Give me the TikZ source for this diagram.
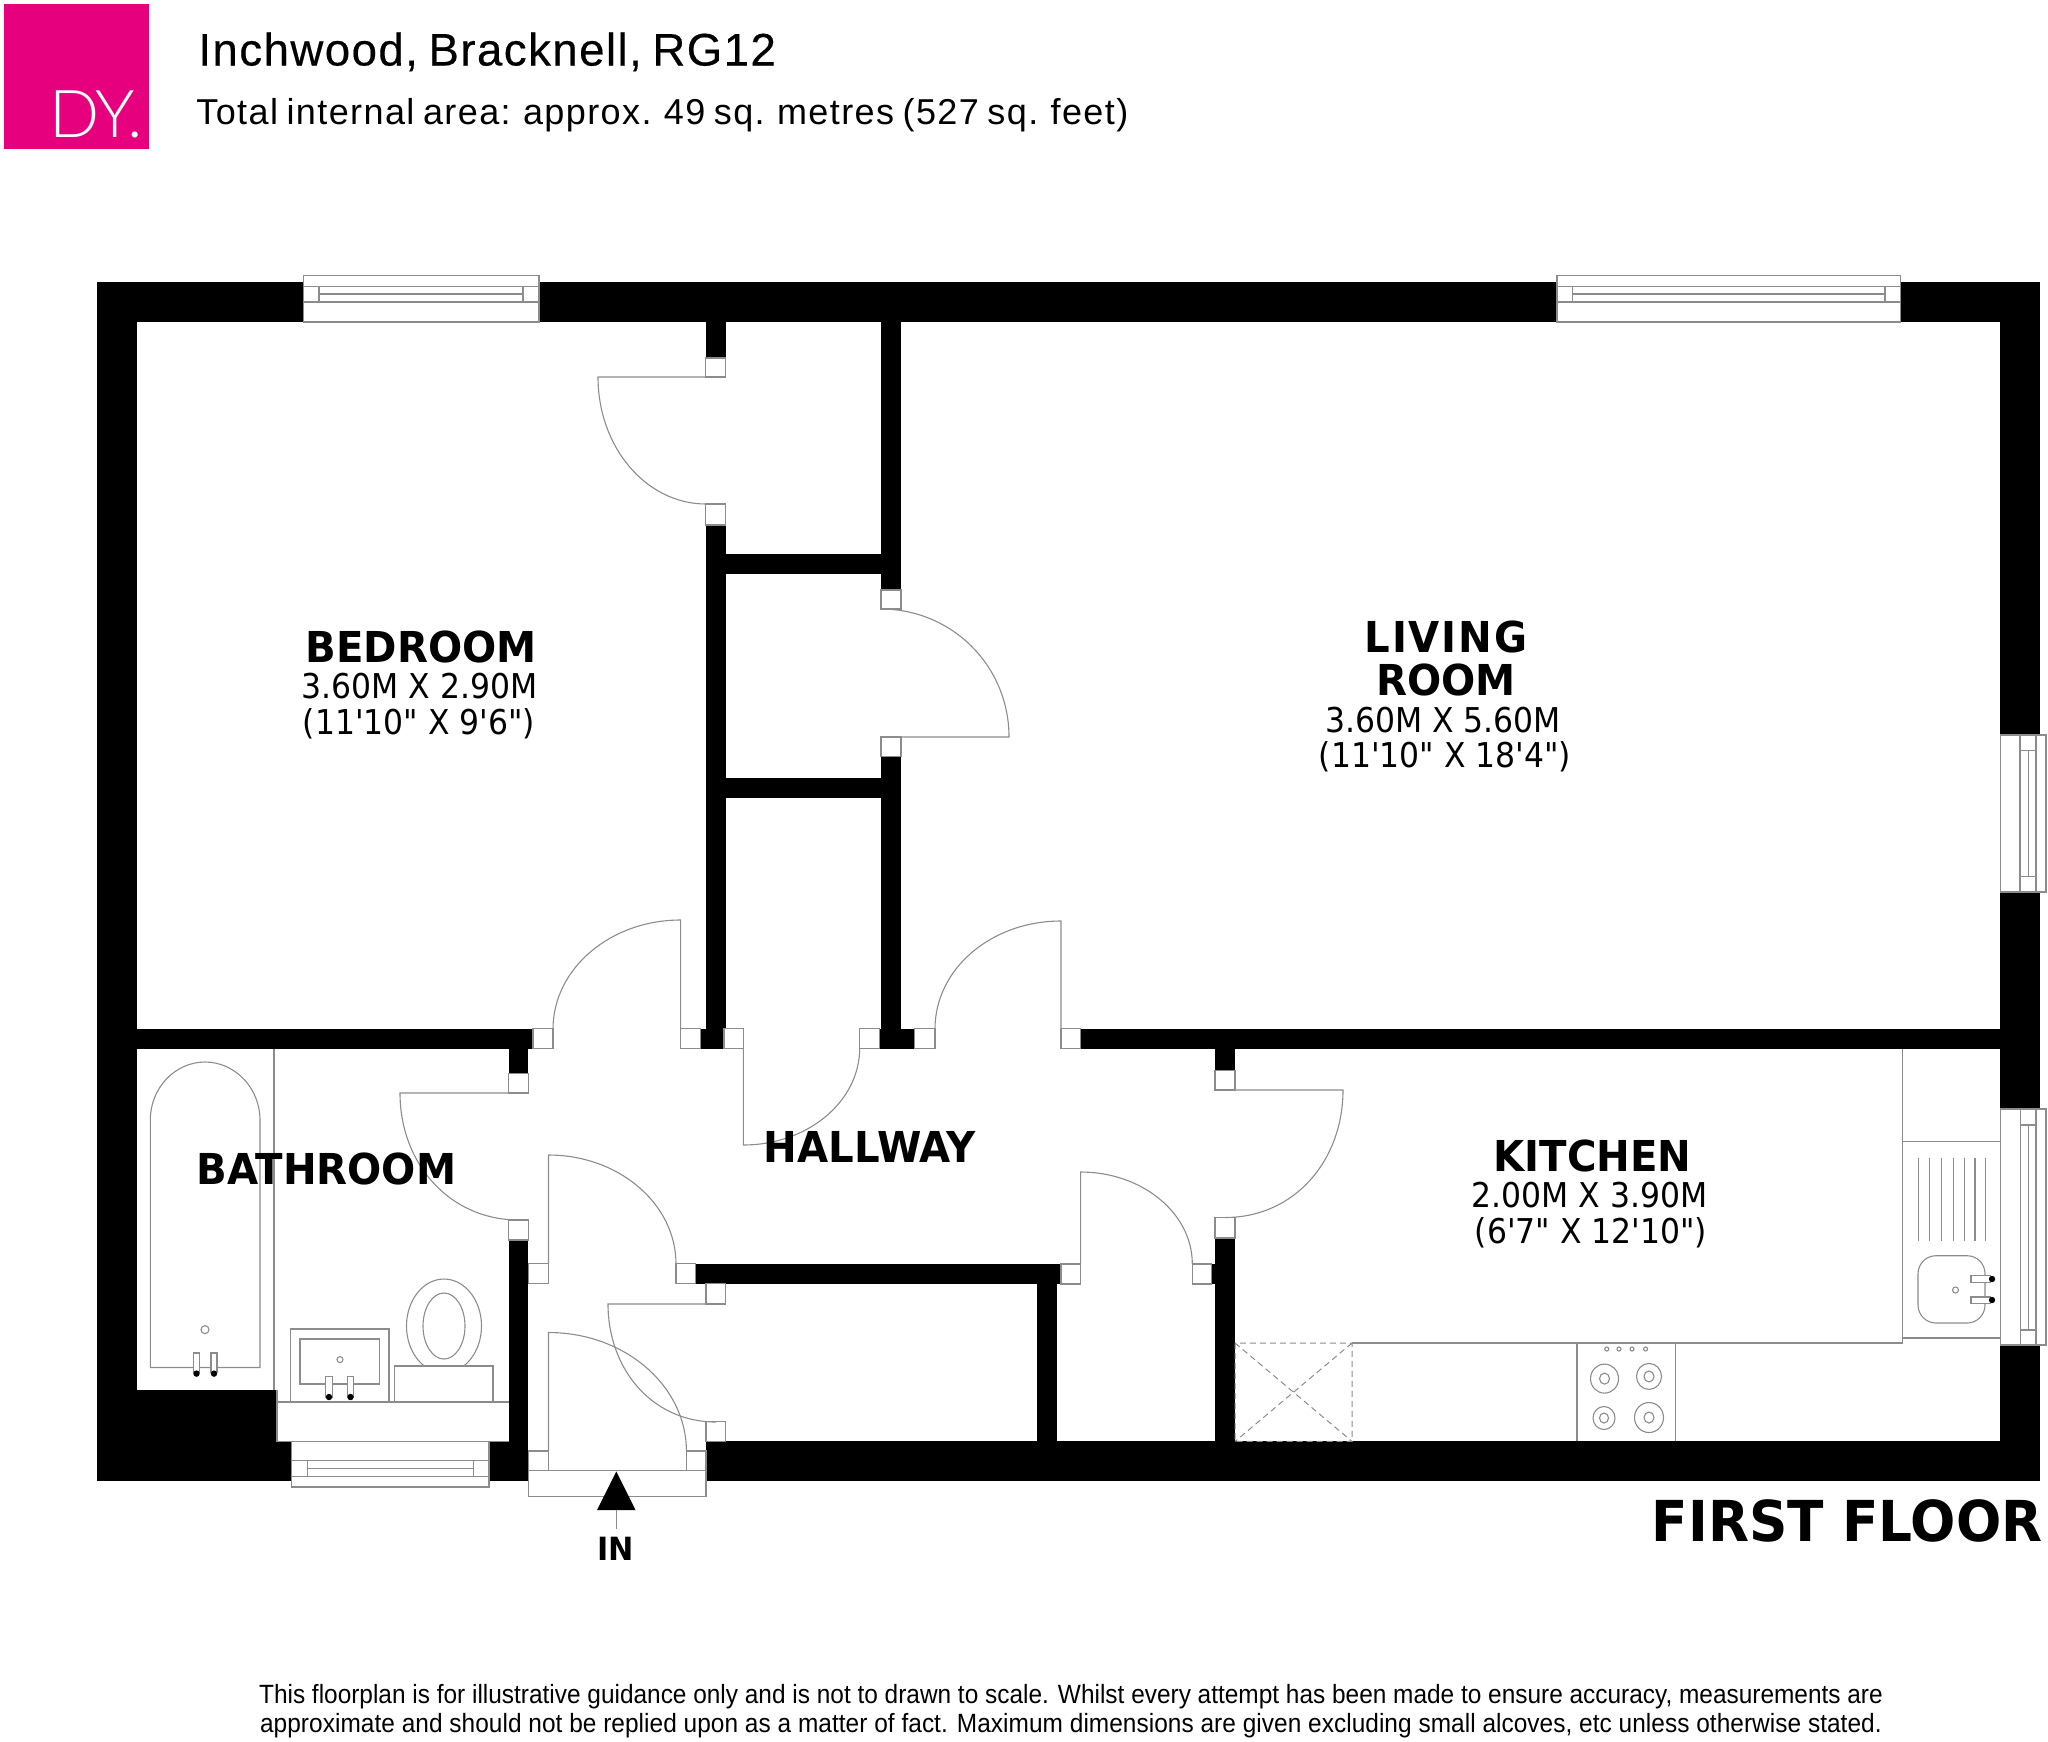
\documentclass[tikz,border=0pt]{standalone}
\usepackage{fontspec}
\setmainfont{Liberation Sans}
\newfontfamily\roomfont[FakeStretch=0.945]{DejaVu Sans}
\newfontfamily\sizefont[FakeStretch=0.92]{DejaVu Sans}
\newfontfamily\logofont[LetterSpace=-3]{Lato Light}
\newfontfamily\addressfont[LetterSpace=3.2, WordSpace=0.75, FakeBold=0.4]{Liberation Sans}
\newfontfamily\areafont[LetterSpace=3.9, WordSpace=0.75]{Liberation Sans}
\newfontfamily\notefont[FakeStretch=0.925]{Liberation Sans}
\definecolor{logopink}{RGB}{230, 0, 126}
\definecolor{fixgrey}{RGB}{140, 140, 140}
\tikzset{
  wall/.style={fill=black},
  fixline/.style={draw=fixgrey, line width=0.55pt},
  fixbox/.style={fixline, fill=white},
  roomtitle/.style={anchor=base, inner sep=0pt, font=\roomfont\bfseries\fontsize{21.3}{24}\selectfont},
  roomsize/.style={anchor=base, inner sep=0pt, font=\sizefont\fontsize{17.1}{20}\selectfont},
  footnote/.style={anchor=base, inner sep=0pt, font=\notefont\fontsize{13.2}{15}\selectfont}
}

\begin{document}
\begin{tikzpicture}[x=0.5pt, y=-0.5pt]
  \useasboundingbox (0,0) rectangle (2048,1741);

  % header
  \fill[logopink] (4,4) rectangle (149,149);
  \node[anchor=base west, inner sep=0pt, text=white, font=\logofont\fontsize{33}{36}\selectfont] (logo) at (49,137.7) {DY.};
  \node[anchor=base west, inner sep=0pt, font=\addressfont\fontsize{22.8}{26}\selectfont] (address) at (198,65.5) {Inchwood, Bracknell, RG12};
  \node[anchor=base west, inner sep=0pt, font=\areafont\fontsize{18}{22}\selectfont] (area) at (196,124) {Total internal area: approx. 49 sq. metres (527 sq. feet)};

  % outer walls
  \fill[wall] (97,282) rectangle (303.5,322);
  \fill[wall] (539,282) rectangle (1557,322);
  \fill[wall] (1900,282) rectangle (2040,322);
  \fill[wall] (97,282) rectangle (136.6,1481);
  \fill[wall] (2000.4,282) rectangle (2040,735);
  \fill[wall] (2000.4,892) rectangle (2040,1109);
  \fill[wall] (2000.4,1345) rectangle (2040,1481);
  \fill[wall] (97,1390.4) rectangle (277,1481);
  \fill[wall] (277,1441.4) rectangle (291.3,1481);
  \fill[wall] (489,1441.4) rectangle (528.4,1481);
  \fill[wall] (706,1441.4) rectangle (2040,1481);

  % inner walls
  \fill[wall] (705.7,322) rectangle (725.7,358);
  \fill[wall] (705.7,525) rectangle (725.7,1048.6);
  \fill[wall] (881,322) rectangle (901,590);
  \fill[wall] (881,756.4) rectangle (901,1048.6);
  \fill[wall] (725,554.3) rectangle (882,574);
  \fill[wall] (725,778) rectangle (882,798);
  \fill[wall] (136,1028.6) rectangle (533,1048.6);
  \fill[wall] (700.5,1028.6) rectangle (724,1048.6);
  \fill[wall] (879.6,1028.6) rectangle (914.3,1048.6);
  \fill[wall] (1080.6,1028.6) rectangle (2001,1048.6);
  \fill[wall] (508.8,1048) rectangle (528.4,1073.6);
  \fill[wall] (508.8,1240) rectangle (528.4,1442);
  \fill[wall] (1215,1048) rectangle (1235,1070.7);
  \fill[wall] (1215,1238) rectangle (1235,1442);
  \fill[wall] (695.8,1264) rectangle (1061,1284);
  \fill[wall] (1211.7,1264) rectangle (1216,1284);
  \fill[wall] (1036.7,1283) rectangle (1056.7,1442);

  % windows
  \draw[fixbox] (303.5,275.7) rectangle (539,322);
  \draw[fixline] (303.5,286.3) -- (539,286.3) (319,294) -- (523,294) (303.5,302) -- (539,302);
  \draw[fixline] (319,286.3) -- (319,302) (523,286.3) -- (523,302);
  \draw[fixbox] (1557,275.7) rectangle (1900.5,322);
  \draw[fixline] (1557,286.3) -- (1900.5,286.3) (1572.7,294) -- (1885,294) (1557,302) -- (1900.5,302);
  \draw[fixline] (1572.7,286.3) -- (1572.7,302) (1885,286.3) -- (1885,302);
  \draw[fixbox] (2000.7,735) rectangle (2046,892);
  \draw[fixline] (2020,735) -- (2020,892) (2036,735) -- (2036,892) (2028.3,750.7) -- (2028.3,876.3);
  \draw[fixline] (2020,750.7) -- (2036,750.7) (2020,876.3) -- (2036,876.3);
  \draw[fixbox] (2000.7,1109) rectangle (2046,1345);
  \draw[fixline] (2020.4,1109) -- (2020.4,1345) (2036,1109) -- (2036,1345) (2028.3,1125) -- (2028.3,1330);
  \draw[fixline] (2020.4,1125) -- (2036,1125) (2020.4,1330) -- (2036,1330);
  \draw[fixbox] (291.3,1441.4) rectangle (489,1487);
  \draw[fixline] (291.3,1460.7) -- (489,1460.7) (307.4,1468.6) -- (473.5,1468.6) (291.3,1476.8) -- (489,1476.8);
  \draw[fixline] (307.4,1460.7) -- (307.4,1476.8) (473.5,1460.7) -- (473.5,1476.8);
  \draw[fixbox] (528.4,1470.7) rectangle (706,1496.8);

  % door jambs
  \draw[fixbox] (705.7,358) rectangle (725.7,377);
  \draw[fixbox] (705.7,504) rectangle (725.7,525);
  \draw[fixbox] (881,590) rectangle (901,609);
  \draw[fixbox] (881,737) rectangle (901,756.4);
  \draw[fixbox] (533,1028.6) rectangle (553,1048.6);
  \draw[fixbox] (680.6,1028.6) rectangle (700.5,1048.6);
  \draw[fixbox] (724,1028.6) rectangle (743.4,1048.6);
  \draw[fixbox] (859.7,1028.6) rectangle (879.6,1048.6);
  \draw[fixbox] (914.3,1028.6) rectangle (935,1048.6);
  \draw[fixbox] (1061,1028.6) rectangle (1080.6,1048.6);
  \draw[fixbox] (508.8,1073.6) rectangle (528.4,1093);
  \draw[fixbox] (508.8,1220) rectangle (528.4,1240);
  \draw[fixbox] (1215,1070.7) rectangle (1235,1090);
  \draw[fixbox] (1215,1217.5) rectangle (1235,1238);
  \draw[fixbox] (528.4,1263.6) rectangle (548.5,1283.6);
  \draw[fixbox] (676,1263.6) rectangle (695.8,1283.6);
  \draw[fixbox] (1061,1264) rectangle (1080.6,1284);
  \draw[fixbox] (1192.3,1264) rectangle (1211.7,1284);
  \draw[fixbox] (706,1283.6) rectangle (725.7,1304);
  \draw[fixbox] (706,1421.8) rectangle (725.7,1441.4);
  \draw[fixbox] (528.4,1451) rectangle (548.5,1470.7);
  \draw[fixbox] (686.4,1451) rectangle (706,1470.7);

  % door leaves
  \draw[fixline] (706,377) -- (598,377) .. controls (598,447) and (646,504) .. (706,504);
  \draw[fixline] (881,609) .. controls (952,609) and (1009,666) .. (1009,737) -- (881,737);
  \draw[fixline] (553,1029) .. controls (553,969) and (610,920) .. (680.6,920) -- (680.6,1029);
  \draw[fixline] (743.4,1048) -- (743.4,1145) .. controls (807,1145) and (859.7,1102) .. (859.7,1048);
  \draw[fixline] (935,1029) .. controls (935,969) and (991,921) .. (1061,921) -- (1061,1029);
  \draw[fixline] (1215,1090) -- (1343,1090) .. controls (1343,1160) and (1295,1217.5) .. (1225,1217.5);
  \draw[fixline] (509,1093) -- (400,1093) .. controls (400,1163) and (449,1220) .. (519,1220);
  \draw[fixline] (548.5,1264) -- (548.5,1155) .. controls (619,1155) and (676,1204) .. (676,1264);
  \draw[fixline] (1080.6,1264) -- (1080.6,1172) .. controls (1142,1172) and (1192.3,1213) .. (1192.3,1264);
  \draw[fixline] (548.5,1451) -- (548.5,1332.5) .. controls (625,1332.5) and (686.4,1386) .. (686.4,1451);
  \draw[fixline] (706,1304) -- (608,1304) .. controls (608,1369) and (652,1422) .. (716,1422);

  % bathroom
  \draw[fixline] (274,1048.6) -- (274,1390.4);
  \draw[fixline] (150.3,1120) .. controls (150.3,1088) and (175,1062) .. (205,1062) .. controls (235,1062) and (260,1088) .. (260,1120) -- (260,1367.5) -- (150.3,1367.5) -- cycle;
  \draw[fixline] (205,1329.6) circle (4);
  \draw[fixbox] (193.6,1353) rectangle (199.4,1372);
  \draw[fixbox] (211,1353) rectangle (217,1372);
  \fill (196.5,1373.6) circle (3.2) (214,1373.6) circle (3.2);
  \draw[fixline] (277,1390.4) -- (277,1441.4) -- (509,1441.4) (277,1402) -- (509,1402);
  \draw[fixbox] (290.4,1329) rectangle (389,1402);
  \draw[fixbox] (300,1339) rectangle (379.3,1384);
  \draw[fixline] (340,1359.6) circle (3);
  \draw[fixbox] (325.7,1376.4) rectangle (332.4,1397);
  \draw[fixbox] (347.6,1376.4) rectangle (353.4,1397);
  \fill (329,1397) circle (3.2) (350.5,1397) circle (3.2);
  \draw[fixline] (444,1326) ellipse (37.5 and 47);
  \draw[fixline] (444,1326) ellipse (21 and 33);
  \draw[fixbox] (394.5,1366) rectangle (493,1402);

  % kitchen
  \draw[fixline] (1902.5,1048.6) -- (1902.5,1343) -- (1352,1343);
  \draw[fixline] (1902.5,1141.8) -- (2000.4,1141.8) (1902.5,1338) -- (2000.4,1338);
  \draw[fixline] (1918.8,1157.5) -- (1918.8,1240.7) (1929.6,1157.5) -- (1929.6,1240.7) (1941.5,1157.5) -- (1941.5,1240.7) (1953.4,1157.5) -- (1953.4,1240.7) (1964.2,1157.5) -- (1964.2,1240.7) (1975,1157.5) -- (1975,1240.7) (1985.3,1157.5) -- (1985.3,1240.7);
  \draw[fixline, rounded corners=9pt] (1918,1255.7) rectangle (1985,1323);
  \draw[fixline] (1955.5,1290) circle (3);
  \draw[fixbox] (1971,1275.4) rectangle (1990.7,1282.5);
  \draw[fixbox] (1971,1297) rectangle (1990.7,1303.6);
  \fill (1992,1279) circle (3.2) (1992,1300) circle (3.2);
  \draw[fixline, densely dashed, line width=0.5pt] (1235,1343) rectangle (1352,1441.4) (1235,1343) -- (1352,1441.4) (1352,1343) -- (1235,1441.4);
  \draw[fixline] (1577,1343) -- (1577,1441.4) (1675.4,1343) -- (1675.4,1441.4);
  \draw[fixline] (1606.7,1349) circle (2) (1619,1349) circle (2) (1632,1349) circle (2) (1645.6,1349) circle (2);
  \draw[fixline] (1604.5,1378.6) ellipse (14 and 14.5) (1604.5,1378.6) ellipse (5 and 5.5);
  \draw[fixline] (1649,1376.4) ellipse (12.5 and 13) (1649,1376.4) ellipse (5 and 5.5);
  \draw[fixline] (1604,1418) ellipse (11 and 11.5) (1604,1418) ellipse (4.5 and 5);
  \draw[fixline] (1649,1417.5) ellipse (14.5 and 15) (1649,1417.5) ellipse (5 and 5.5);

  % entrance arrow
  \fill (616.3,1471.4) -- (635.5,1510) -- (597,1510) -- cycle;
  \draw[fixline] (616.3,1510) -- (616.3,1529);

  % room labels
  \node[roomtitle] (bedroom) at (421,662) {BEDROOM};
  \node[roomsize] (bedroommetric) at (419.5,698.5) {3.60M X 2.90M};
  \node[roomsize] (bedroomimperial) at (419,734) {(11'10" X 9'6")};
  \node[roomtitle] (living) at (1446,652.5) {\addfontfeatures{LetterSpace=4.5}LIVING};
  \node[roomtitle] (room) at (1446,695.5) {ROOM};
  \node[roomsize] (livingmetric) at (1443,732) {3.60M X 5.60M};
  \node[roomsize] (livingimperial) at (1445,767.5) {(11'10" X 18'4")};
  \node[roomtitle] (bathroom) at (326.5,1184) {BATHROOM};
  \node[roomtitle] (hallway) at (870,1162.5) {HALLWAY};
  \node[roomtitle] (kitchen) at (1592.6,1171) {KITCHEN};
  \node[roomsize] (kitchenmetric) at (1589.7,1207.5) {2.00M X 3.90M};
  \node[roomsize] (kitchenimperial) at (1591,1243) {(6'7" X 12'10")};
  \node[roomtitle, font=\roomfont\bfseries\fontsize{16}{18}\selectfont] (entry) at (615.5,1560) {IN};
  \node[roomtitle, anchor=base east, font=\roomfont\bfseries\fontsize{28.2}{32}\selectfont] (floorname) at (2043,1541.4) {FIRST FLOOR};

  % footer
  \node[footnote] (noteone) at (1071,1703) {This floorplan is for illustrative guidance only and is not to drawn to scale. Whilst every attempt has been made to ensure accuracy, measurements are};
  \node[footnote] (notetwo) at (1071,1732) {\addfontfeatures{LetterSpace=0.17}approximate and should not be replied upon as a matter of fact. Maximum dimensions are given excluding small alcoves, etc unless otherwise stated.};
\end{tikzpicture}
\end{document}
